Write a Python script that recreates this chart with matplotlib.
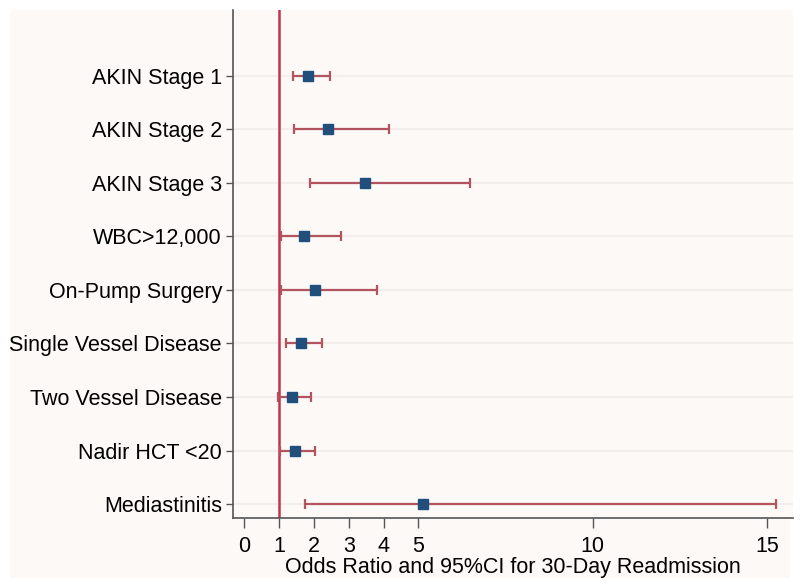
import matplotlib
matplotlib.use("Agg")
from matplotlib import pyplot as plt
from matplotlib.patches import Rectangle
import numpy as np

# odds ratios with 95% CI, 30-day readmission
labels = ['AKIN Stage 1', 'AKIN Stage 2', 'AKIN Stage 3', 'WBC>12,000',
          'On-Pump Surgery', 'Single Vessel Disease', 'Two Vessel Disease',
          'Nadir HCT <20', 'Mediastinitis']
odds = [1.83, 2.41, 3.47, 1.72, 2.02, 1.62, 1.38, 1.45, 5.13]
ci_low = [1.40, 1.43, 1.89, 1.05, 1.06, 1.20, 0.98, 1.02, 1.75]
ci_high = [2.46, 4.15, 6.48, 2.78, 3.81, 2.23, 1.91, 2.03, 15.25]
xticks = [0, 1, 2, 3, 4, 5, 10, 15]

plt.rcParams['font.family'] = ['Liberation Sans', 'DejaVu Sans']

fig = plt.figure(figsize=(8, 5.88), dpi=100, facecolor='white')
bg = '#fcf9f7'
fig.patches.append(Rectangle((10 / 800, 10 / 588), 780 / 800, 568 / 588,
                             transform=fig.transFigure, facecolor=bg,
                             edgecolor='none', zorder=-10))

ax = fig.add_axes([233 / 800, 1 - 518 / 588, 560 / 800, 508 / 588])
ax.set_zorder(1)
ax.set_facecolor(bg)

ypos = np.arange(len(labels), 0, -1)
odds = np.array(odds)
lo = odds - np.array(ci_low)
hi = np.array(ci_high) - odds

for y in ypos:
    ax.axhline(y, color='#f3eeeb', lw=1.5, zorder=0)

ax.axvline(1, color='#c2334d', lw=1.8, zorder=1)
ax.errorbar(odds, ypos, xerr=[lo, hi], fmt='none', ecolor='#b2535e',
            elinewidth=1.6, capsize=3.5, capthick=1.6, zorder=2)
ax.plot(odds, ypos, 's', color='#1f4f7a', markersize=6.5, zorder=3)

ax.set_xlim(-0.32, 15.75)
ax.set_ylim(0.74, 10.23)
ax.set_xticks(xticks)
ax.set_yticks(ypos)
ax.set_yticklabels(labels)
ax.tick_params(axis='both', labelsize=15.5, width=1, color='#555555')
ax.tick_params(axis='y', length=5, pad=3)
ax.tick_params(axis='x', length=7, pad=6)
ax.set_xlabel('Odds Ratio and 95%CI for 30-Day Readmission', fontsize=15.5,
              labelpad=0)

for s in ['top', 'right']:
    ax.spines[s].set_visible(False)
for s in ['left', 'bottom']:
    ax.spines[s].set_color('#555555')
    ax.spines[s].set_linewidth(1.2)

plt.savefig('out.png', dpi=100, facecolor='white')
